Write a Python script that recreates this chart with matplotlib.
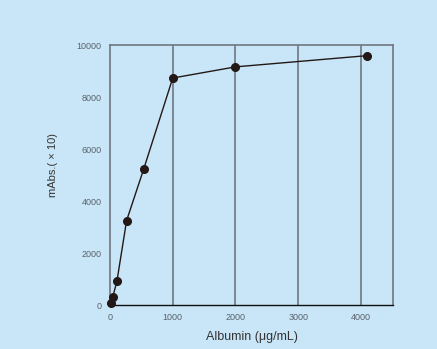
import matplotlib
matplotlib.use("Agg")
import matplotlib.pyplot as plt

albumin = [15, 45, 110, 265, 540, 1000, 2000, 4090]
mabs = [90, 320, 910, 3250, 5250, 8730, 9160, 9590]
xticks = [0, 1000, 2000, 3000, 4000]
yticks = [0, 2000, 4000, 6000, 8000, 10000]

bg = "#C8E6F8"
grid = "#6E7882"
plt.rcParams['font.family'] = ['Liberation Sans', 'DejaVu Sans']

fig = plt.figure(figsize=(4.37, 3.49), dpi=100, facecolor=bg)
ax = fig.add_axes([0.2517, 0.126, 0.6476, 0.745], facecolor=bg)

for xv in xticks[1:]:
    ax.axvline(xv, color=grid, lw=1.2, zorder=1)

ax.plot(albumin, mabs, color="#231815", lw=1.0, marker="o", ms=5.5,
        markerfacecolor="#231815", markeredgecolor="#231815", zorder=3, clip_on=False)

ax.set_xlim(0, 4510)
ax.set_ylim(0, 10000)
ax.set_xticks(xticks)
ax.set_yticks(yticks)
ax.tick_params(length=0, labelsize=6.5, labelcolor="#5a626a", pad=6)

for s in ["left", "top", "right"]:
    ax.spines[s].set_color(grid)
    ax.spines[s].set_linewidth(1.2)
ax.spines["bottom"].set_color("#111111")
ax.spines["bottom"].set_linewidth(1.0)

ax.set_xlabel("Albumin (μg/mL)", fontsize=9, color="#333333", labelpad=6)
ax.set_ylabel("mAbs.( × 10)", fontsize=8, color="#333333")
ax.yaxis.set_label_coords(-0.184, 0.54)

fig.savefig("out.png", dpi=100, facecolor=bg)
